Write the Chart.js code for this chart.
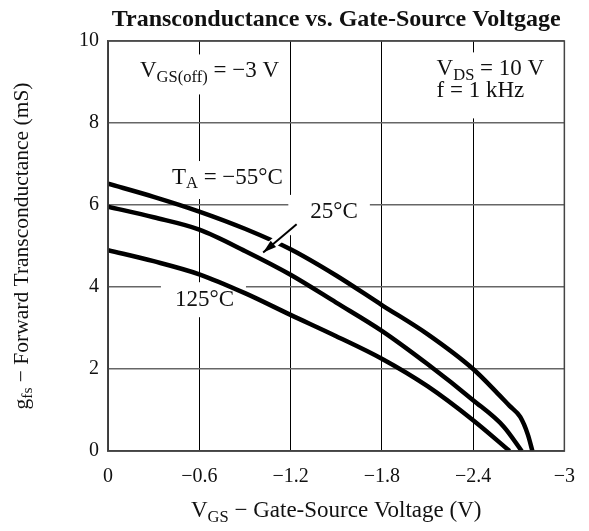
<!DOCTYPE html>
<html>
<head>
<meta charset="utf-8">
<script src="https://cdn.jsdelivr.net/npm/chart.js@4.4.1/dist/chart.umd.min.js"></script>
<style>
  html, body { margin: 0; padding: 0; background: #fff; }
  #wrap { width: 589px; height: 531px; }
</style>
</head>
<body>
<div id="wrap"><canvas id="gfs-chart" width="589" height="531"></canvas></div>
<script>
/* data */
const vgs55 = [0, -0.3, -0.6, -0.9, -1.2, -1.5, -1.8, -2.1, -2.4, -2.55, -2.64, -2.71, -2.76, -2.79];
const gfs55 = [6.52, 6.2, 5.84, 5.42, 4.92, 4.28, 3.56, 2.85, 2.0, 1.45, 1.1, 0.83, 0.4, 0];

const vgs25 = [0, -0.3, -0.6, -0.9, -1.2, -1.5, -1.8, -2.1, -2.4, -2.6, -2.72];
const gfs25 = [5.96, 5.7, 5.4, 4.88, 4.3, 3.62, 2.93, 2.12, 1.24, 0.6, 0];

const vgs125 = [0, -0.3, -0.6, -0.9, -1.2, -1.5, -1.8, -2.1, -2.4, -2.64];
const gfs125 = [4.9, 4.63, 4.31, 3.85, 3.32, 2.8, 2.25, 1.58, 0.75, 0];

const xTicks = [0, -0.6, -1.2, -1.8, -2.4, -3];
const yTicks = [0, 2, 4, 6, 8, 10];

const FONT = '"Liberation Serif", "DejaVu Serif", serif';

function pts(xs, ys) {
    return xs.map((x, i) => ({ x: x, y: ys[i] }));
}

function minusLabel(v) {
    const r = Math.round(Math.abs(v) * 10) / 10;
    return r === 0 ? '0' : '\u2212' + r;
}

// text made of parts, some of them subscript
function partsWidth(ctx, parts, size) {
    let w = 0;
    parts.forEach(p => {
        ctx.font = (p.sub ? size * 0.72 : size) + 'px ' + FONT;
        w += ctx.measureText(p.t).width;
    });
    return w;
}

function drawParts(ctx, parts, x, y, size) {
    ctx.textBaseline = 'middle';
    ctx.textAlign = 'left';
    parts.forEach(p => {
        ctx.font = (p.sub ? size * 0.72 : size) + 'px ' + FONT;
        ctx.fillText(p.t, x, p.sub ? y + size * 0.28 : y);
        x += ctx.measureText(p.t).width;
    });
}

// labels inside the plot, placed in data units
const notes = [
    { x: -0.21, y: 9.27, parts: [{ t: 'V' }, { t: 'GS(off)', sub: true }, { t: ' = \u22123 V' }], pad: [6, 5, 6, 12] },
    { x: -2.16, y: 9.32, parts: [{ t: 'V' }, { t: 'DS', sub: true }, { t: ' = 10 V' }], pad: [14, 5, 10, 38] },
    { x: -2.16, y: 8.78, parts: [{ t: 'f = 1 kHz' }], pad: [0, 0, 0, 0] },
    { x: -0.42, y: 6.67, parts: [{ t: 'T' }, { t: 'A', sub: true }, { t: ' = \u221255\u00B0C' }], pad: [8, 5, 1, 10] },
    { x: -1.33, y: 5.82, parts: [{ t: '25\u00B0C' }], pad: [22, 6, 12, 10] },
    { x: -0.44, y: 3.69, parts: [{ t: '125\u00B0C' }], pad: [14, 6, 12, 6] }
];
const arrowFrom = { x: -1.24, y: 5.53 };
const arrowTo = { x: -1.02, y: 4.84 };
const NOTE_SIZE = 23;

const decor = {
    id: 'decor',
    beforeDatasetsDraw(chart) {
        const ctx = chart.ctx;
        const xs = chart.scales.x, ys = chart.scales.y;
        const size = NOTE_SIZE;
        ctx.save();
        ctx.fillStyle = '#fff';
        notes.forEach(n => {
            if (!n.pad[0] && !n.pad[1]) return;
            const px = xs.getPixelForValue(n.x), py = ys.getPixelForValue(n.y);
            const w = partsWidth(ctx, n.parts, size);
            ctx.fillRect(px - n.pad[0], py - size / 2 - n.pad[1], w + n.pad[0] + n.pad[2], size + n.pad[1] + n.pad[3]);
        });
        ctx.restore();
    },
    afterDatasetsDraw(chart) {
        const ctx = chart.ctx;
        const a = chart.chartArea;
        const xs = chart.scales.x, ys = chart.scales.y;
        const size = NOTE_SIZE;
        ctx.save();

        // frame
        ctx.strokeStyle = '#444';
        ctx.lineWidth = 1.5;
        ctx.strokeRect(a.left, a.top, a.right - a.left, a.bottom - a.top);

        // arrow to the 25 C curve, with a white halo
        const x1 = xs.getPixelForValue(arrowFrom.x), y1 = ys.getPixelForValue(arrowFrom.y);
        const x2 = xs.getPixelForValue(arrowTo.x), y2 = ys.getPixelForValue(arrowTo.y);
        ctx.strokeStyle = '#fff';
        ctx.lineWidth = 9;
        ctx.beginPath(); ctx.moveTo(x1, y1); ctx.lineTo(x2 + 4, y2 - 4); ctx.stroke();
        ctx.strokeStyle = '#000';
        ctx.lineWidth = 2;
        ctx.beginPath(); ctx.moveTo(x1, y1); ctx.lineTo(x2, y2); ctx.stroke();
        const ang = Math.atan2(y2 - y1, x2 - x1);
        ctx.fillStyle = '#000';
        ctx.beginPath();
        ctx.moveTo(x2, y2);
        ctx.lineTo(x2 - 14 * Math.cos(ang - 0.3), y2 - 14 * Math.sin(ang - 0.3));
        ctx.lineTo(x2 - 14 * Math.cos(ang + 0.3), y2 - 14 * Math.sin(ang + 0.3));
        ctx.closePath();
        ctx.fill();

        // labels
        ctx.fillStyle = '#111';
        notes.forEach(n => {
            drawParts(ctx, n.parts, xs.getPixelForValue(n.x), ys.getPixelForValue(n.y), size);
        });

        // title
        ctx.font = 'bold 24px ' + FONT;
        ctx.textAlign = 'center';
        ctx.textBaseline = 'middle';
        ctx.fillText('Transconductance vs. Gate-Source Voltgage', (a.left + a.right) / 2, 20);

        // x title
        const xt = [{ t: 'V' }, { t: 'GS', sub: true }, { t: ' \u2212 Gate-Source Voltage (V)' }];
        const xw = partsWidth(ctx, xt, 23);
        drawParts(ctx, xt, (a.left + a.right) / 2 - xw / 2, 511, 23);

        // y title, rotated
        const yt = [{ t: 'g' }, { t: 'fs', sub: true }, { t: ' \u2212 Forward Transconductance (mS)' }];
        const yw = partsWidth(ctx, yt, 21.5);
        ctx.translate(22, (a.top + a.bottom) / 2);
        ctx.rotate(-Math.PI / 2);
        drawParts(ctx, yt, -yw / 2, 0, 21.5);
        ctx.restore();
    }
};

function curve(label, xs, ys) {
    return {
        label: label,
        data: pts(xs, ys),
        borderColor: '#000',
        borderWidth: 4.5,
        pointRadius: 0,
        fill: false,
        cubicInterpolationMode: 'monotone',
        borderCapStyle: 'butt'
    };
}

const config = {
    type: 'line',
    data: {
        datasets: [
            curve('-55 C', vgs55, gfs55),
            curve('25 C', vgs25, gfs25),
            curve('125 C', vgs125, gfs125)
        ]
    },
    options: {
        responsive: false,
        animation: false,
        layout: { padding: { left: 0, right: 19, top: 41, bottom: 0 } },
        plugins: {
            legend: { display: false },
            title: { display: false },
            tooltip: { enabled: false }
        },
        scales: {
            x: {
                type: 'linear',
                min: -3,
                max: 0,
                reverse: true,
                afterFit: s => { s.height = 80; },
                afterBuildTicks: s => { s.ticks = xTicks.map(v => ({ value: v })); },
                grid: { color: '#000', lineWidth: 1, drawTicks: false },
                border: { color: '#444', width: 1.5 },
                ticks: {
                    padding: 14,
                    color: '#111',
                    font: { family: FONT, size: 20 },
                    maxRotation: 0,
                    callback: v => minusLabel(v)
                }
            },
            y: {
                type: 'linear',
                min: 0,
                max: 10,
                afterFit: s => { s.width = 108; },
                afterBuildTicks: s => { s.ticks = yTicks.map(v => ({ value: v })); },
                grid: { color: '#666', lineWidth: 1.5, drawTicks: false },
                border: { color: '#444', width: 1.5 },
                ticks: {
                    padding: 9,
                    color: '#111',
                    font: { family: FONT, size: 20 },
                    callback: v => String(v)
                }
            }
        }
    },
    plugins: [decor]
};

const ctx = document.getElementById('gfs-chart').getContext('2d');
const gfsChart = new Chart(ctx, config);
</script>
</body>
</html>
